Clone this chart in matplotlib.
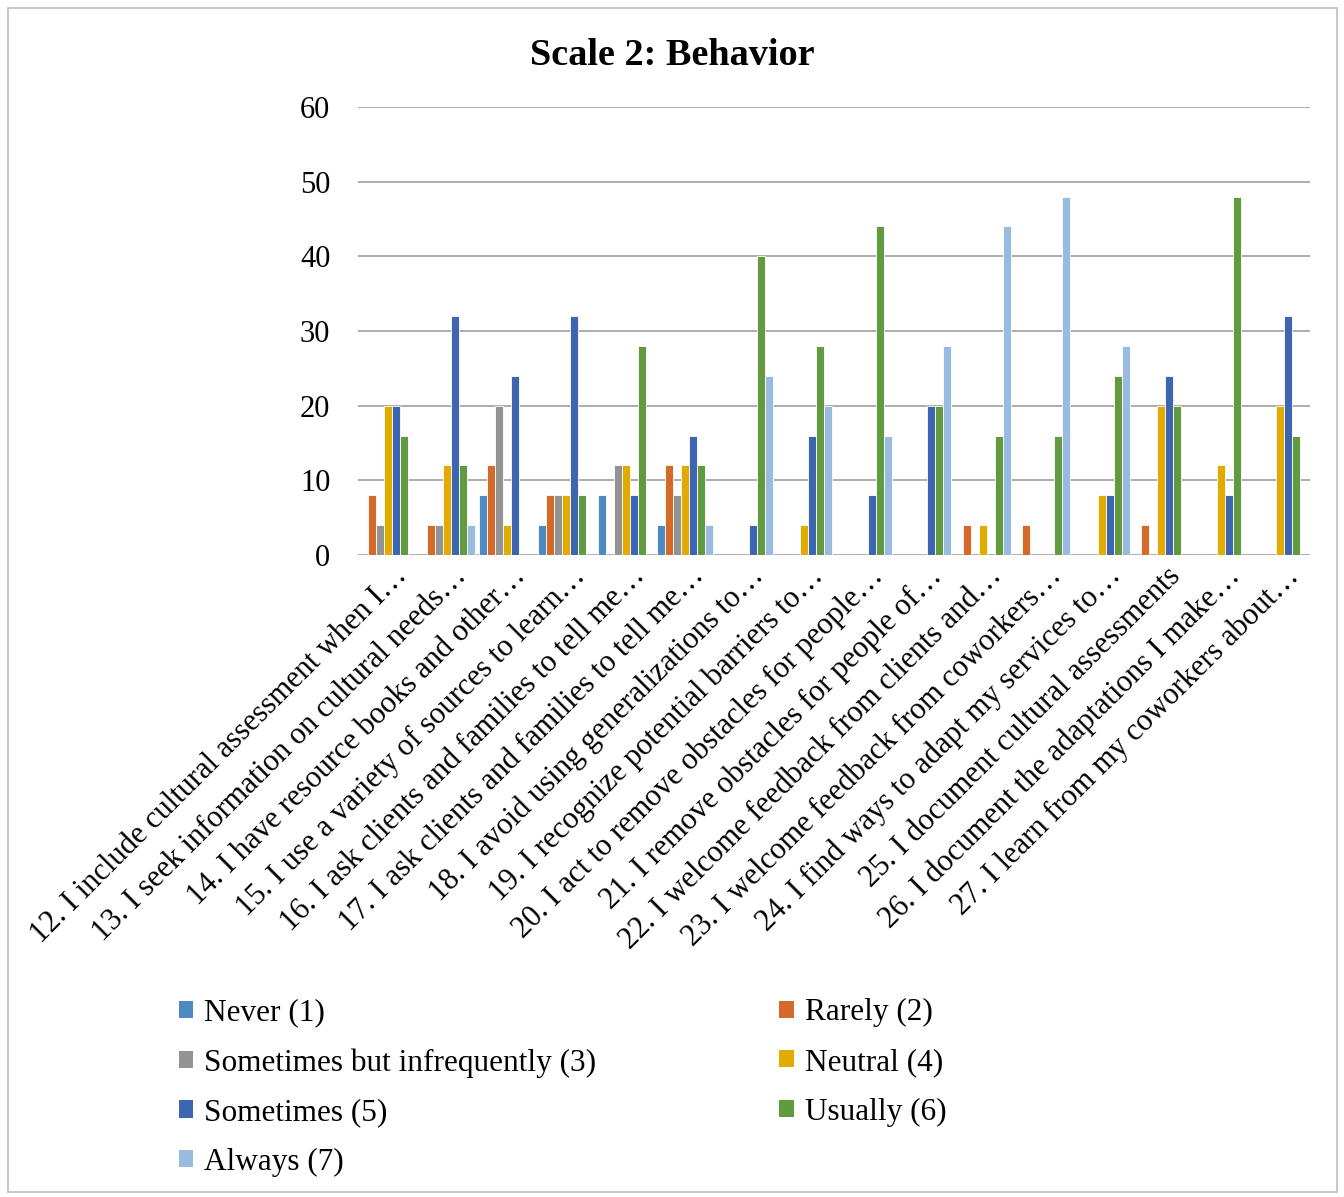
import numpy as np
import matplotlib.pyplot as plt
import matplotlib.transforms as mtransforms
from matplotlib.patches import Rectangle, Patch

plt.rcParams['font.family'] = ['Liberation Serif', 'DejaVu Serif']

items = [
    "12. I include cultural assessment when I\u2026",
    "13. I seek information on cultural needs\u2026",
    "14. I have resource books and other\u2026",
    "15. I use a variety of sources to learn\u2026",
    "16. I ask clients and families to tell me\u2026",
    "17. I ask clients and families to tell me\u2026",
    "18. I avoid using generalizations to\u2026",
    "19. I recognize potential barriers to\u2026",
    "20. I act to remove obstacles for people\u2026",
    "21. I remove obstacles for people of\u2026",
    "22. I welcome feedback from clients and\u2026",
    "23. I welcome feedback from coworkers\u2026",
    "24. I find ways to adapt my services to\u2026",
    "25. I document cultural assessments",
    "26. I document the adaptations I make\u2026",
    "27. I learn from my coworkers about\u2026",
]

series_names = ["Never (1)", "Rarely (2)", "Sometimes but infrequently (3)",
                "Neutral (4)", "Sometimes (5)", "Usually (6)", "Always (7)"]

never      = [0, 0, 8, 4, 8, 4, 0, 0, 0, 0, 0, 0, 0, 0, 0, 0]
rarely     = [8, 4, 12, 8, 0, 12, 0, 0, 0, 0, 4, 4, 0, 4, 0, 0]
infrequent = [4, 4, 20, 8, 12, 8, 0, 0, 0, 0, 0, 0, 0, 0, 0, 0]
neutral    = [20, 12, 4, 8, 12, 12, 0, 4, 0, 0, 4, 0, 8, 20, 12, 20]
sometimes  = [20, 32, 24, 32, 8, 16, 4, 16, 8, 20, 0, 0, 8, 24, 8, 32]
usually    = [16, 12, 0, 8, 28, 12, 40, 28, 44, 20, 16, 16, 24, 20, 48, 16]
always     = [0, 4, 0, 0, 0, 4, 24, 20, 16, 28, 44, 48, 28, 0, 0, 0]

series = [never, rarely, infrequent, neutral, sometimes, usually, always]
colors = ['#4e8ac2', '#d5692a', '#939393', '#e3aa00', '#3e66b0', '#629a40', '#99bbe0']

fig = plt.figure(figsize=(13.44, 11.97), dpi=100)
ax = fig.add_axes([0.2664, 0.5363, 0.7083, 0.3743])

x = np.arange(len(items))
w = 0.135
handles = []
for i, (vals, c) in enumerate(zip(series, colors)):
    ax.bar(x + (i - 3) * w, vals, width=w, color=c, edgecolor='white',
           linewidth=0.6, zorder=3)
    handles.append(Patch(facecolor=c, edgecolor='none'))

ax.set_xlim(-0.5, len(items) - 0.5)
ax.set_ylim(0, 60)
ax.set_yticks(range(0, 61, 10))
ax.yaxis.grid(True, color='#a6a6a6', linewidth=1.3, zorder=0)
ax.set_axisbelow(True)
for s in ax.spines.values():
    s.set_visible(False)
ax.tick_params(axis='both', length=0, labelsize=22)
ax.tick_params(axis='y', pad=20)

ax.set_xticks(x)
ax.set_xticklabels(items, rotation=45, ha='right', va='center',
                   rotation_mode='anchor', fontsize=22)
offset = mtransforms.ScaledTranslation(0.15, -0.12, fig.dpi_scale_trans)
for lbl in ax.get_xticklabels():
    lbl.set_transform(lbl.get_transform() + offset)

fig.text(0.5, 0.954, "Scale 2: Behavior", ha='center', va='center',
         fontsize=27.5, fontweight='bold')

# legend filled column by column: left column then right column
order = [0, 2, 4, 6, 1, 3, 5]
fig.legend([handles[i] for i in order], [series_names[i] for i in order],
           loc='upper left', bbox_to_anchor=(0.133, 0.166), ncol=2,
           frameon=False, fontsize=22.5, handlelength=0.47, handleheight=0.47,
           handletextpad=0.35, labelspacing=0.66, columnspacing=5.85,
           borderaxespad=0, borderpad=0)

fig.patches.append(Rectangle((0.006, 0.004), 0.989, 0.989, transform=fig.transFigure,
                             fill=False, edgecolor='#bfbfbf', linewidth=1.2))

fig.savefig('out.png', dpi=100)
